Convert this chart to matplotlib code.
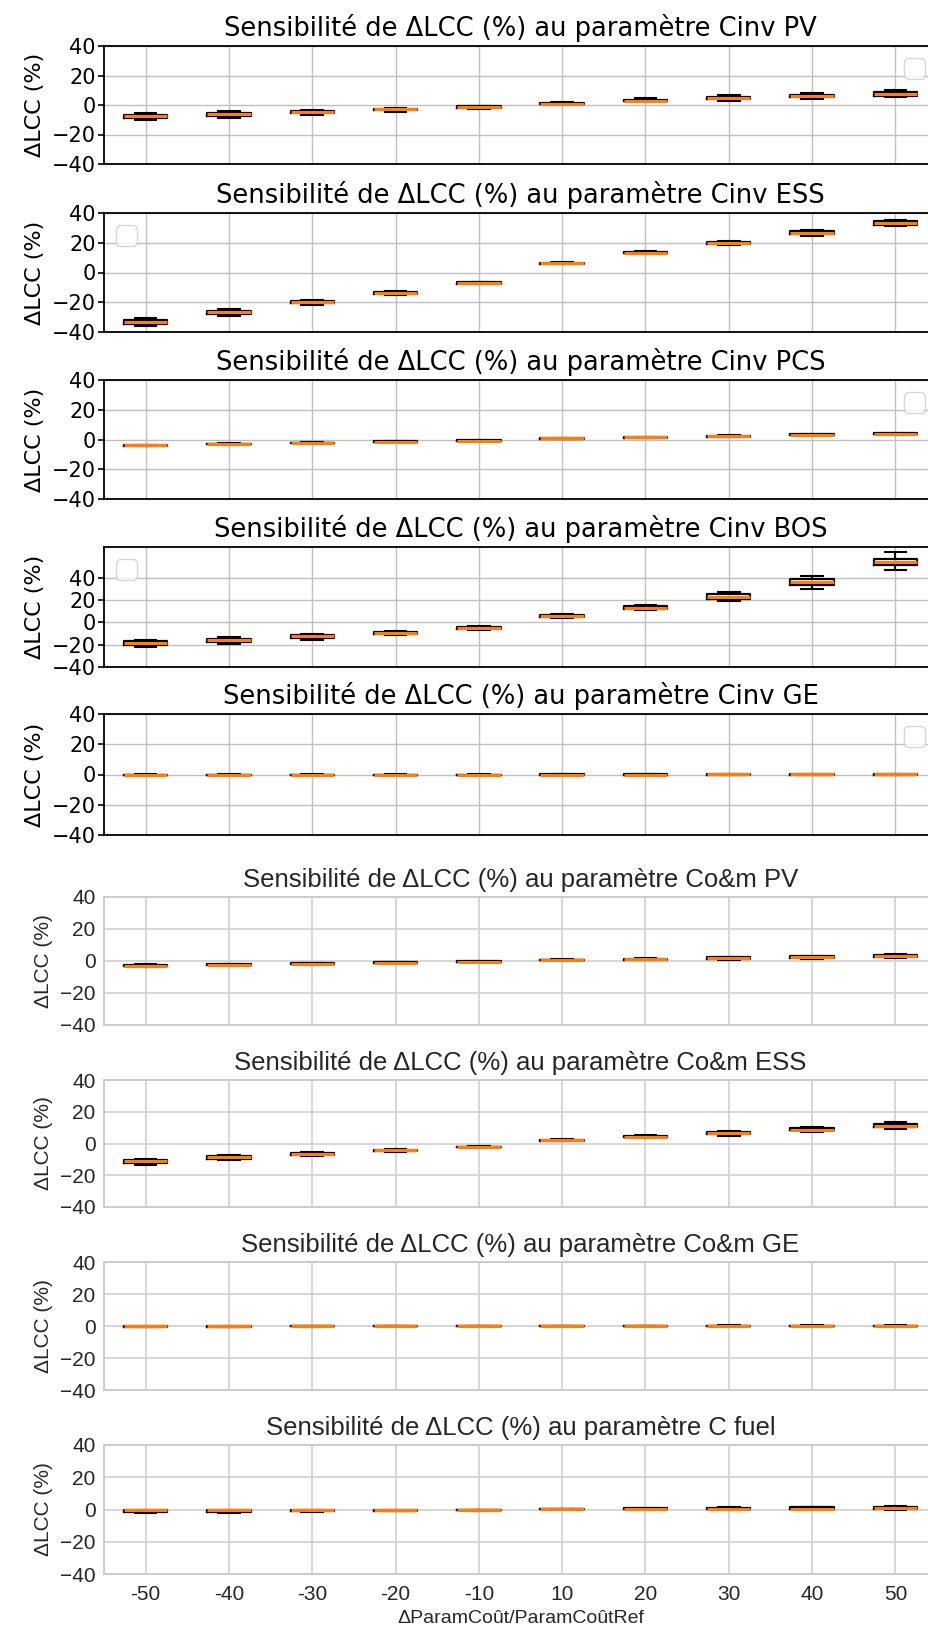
import matplotlib
matplotlib.use("Agg")
import matplotlib.pyplot as plt

categories = ["-50", "-40", "-30", "-20", "-10", "10", "20", "30", "40", "50"]
titles = ["Cinv PV", "Cinv ESS", "Cinv PCS", "Cinv BOS", "Cinv GE",
          "Co&m PV", "Co&m ESS", "Co&m GE", "C fuel"]

# each panel: whisker low, Q1, median, Q3, whisker high (ΔLCC %)
pv_lo  = [-10.5, -8.6, -6.8, -4.6, -2.4, 0.3, 1.8, 3.0, 4.3, 5.5]
pv_q1  = [-8.8, -7.2, -5.5, -3.6, -1.8, 0.7, 2.4, 3.8, 5.1, 6.4]
pv_med = [-7.6, -6.2, -4.7, -3.0, -1.4, 1.0, 2.9, 4.5, 5.9, 7.3]
pv_q3  = [-6.5, -5.2, -3.9, -2.4, -1.0, 1.4, 3.6, 5.4, 7.0, 8.7]
pv_hi  = [-5.5, -4.3, -3.2, -1.9, -0.7, 2.0, 4.5, 6.6, 8.3, 10.5]

ess_lo  = [-35.8, -29.0, -21.8, -14.9, -7.8, 5.5, 12.4, 18.3, 24.6, 31.2]
ess_q1  = [-34.5, -27.8, -20.8, -14.2, -7.4, 6.0, 13.0, 19.2, 25.8, 32.2]
ess_med = [-33.5, -26.8, -20.0, -13.6, -7.1, 6.2, 13.3, 19.8, 26.5, 33.1]
ess_q3  = [-32.2, -25.8, -19.3, -13.1, -6.7, 6.7, 14.0, 20.5, 27.6, 34.5]
ess_hi  = [-30.8, -24.8, -18.5, -12.4, -6.2, 7.3, 14.7, 21.4, 28.7, 35.6]

pcs_lo  = [-4.6, -3.6, -2.8, -2.0, -1.1, 0.3, 1.0, 1.6, 2.3, 3.0]
pcs_q1  = [-4.3, -3.3, -2.5, -1.7, -0.9, 0.5, 1.3, 2.0, 2.7, 3.5]
pcs_med = [-4.0, -3.1, -2.3, -1.5, -0.7, 0.7, 1.5, 2.3, 3.0, 3.8]
pcs_q3  = [-3.8, -2.9, -2.1, -1.3, -0.6, 0.9, 1.7, 2.6, 3.4, 4.2]
pcs_hi  = [-3.4, -2.6, -1.9, -1.1, -0.4, 1.1, 2.0, 3.0, 3.8, 4.6]

bos_lo  = [-22.1, -19.2, -15.5, -11.7, -7.2, 4.2, 10.8, 19.1, 30.3, 46.6]
bos_q1  = [-20.0, -17.2, -14.0, -10.4, -6.0, 5.0, 12.2, 21.0, 33.5, 51.0]
bos_med = [-18.2, -15.5, -12.6, -9.2, -5.1, 5.7, 13.2, 23.0, 36.1, 54.1]
bos_q3  = [-17.0, -14.5, -11.6, -8.4, -4.4, 6.4, 14.8, 25.0, 38.5, 57.0]
bos_hi  = [-16.1, -13.2, -10.8, -7.5, -3.6, 7.2, 15.9, 26.9, 41.9, 63.1]

ge_lo  = [-0.7, -0.6, -0.4, -0.3, -0.2, -0.1, -0.1, -0.1, -0.1, -0.1]
ge_q1  = [-0.6, -0.5, -0.3, -0.2, -0.1, 0.0, 0.0, 0.0, 0.0, 0.0]
ge_med = [-0.1, -0.1, -0.1, -0.1, 0.0, 0.0, 0.0, 0.1, 0.1, 0.1]
ge_q3  = [0.0, 0.0, 0.0, 0.0, 0.0, 0.1, 0.1, 0.3, 0.3, 0.3]
ge_hi  = [0.1, 0.1, 0.1, 0.1, 0.1, 0.2, 0.2, 0.5, 0.5, 0.6]

ompv_lo  = [-4.0, -3.3, -2.5, -1.8, -0.9, 0.2, 0.4, 0.8, 1.3, 1.8]
ompv_q1  = [-3.4, -2.8, -2.1, -1.4, -0.7, 0.4, 0.8, 1.4, 1.9, 2.4]
ompv_med = [-3.0, -2.4, -1.8, -1.1, -0.5, 0.6, 1.1, 1.8, 2.4, 3.0]
ompv_q3  = [-2.6, -2.0, -1.5, -0.9, -0.3, 0.8, 1.5, 2.3, 2.9, 3.5]
ompv_hi  = [-2.0, -1.6, -1.1, -0.6, -0.1, 1.0, 1.8, 2.8, 3.4, 4.1]

omess_lo  = [-13.5, -10.7, -8.0, -5.4, -2.8, 1.4, 3.6, 5.0, 7.4, 9.2]
omess_q1  = [-12.0, -9.5, -7.1, -4.8, -2.4, 1.8, 4.0, 5.8, 8.2, 10.2]
omess_med = [-11.0, -8.6, -6.5, -4.3, -2.2, 2.0, 4.2, 6.6, 8.8, 10.9]
omess_q3  = [-10.2, -8.0, -6.0, -4.0, -2.0, 2.3, 4.6, 7.2, 9.8, 12.3]
omess_hi  = [-9.6, -7.4, -5.5, -3.6, -1.8, 2.7, 5.1, 8.0, 10.6, 13.4]

omge_lo  = [-0.6, -0.5, -0.4, -0.3, -0.2, -0.1, -0.1, -0.1, -0.1, -0.1]
omge_q1  = [-0.5, -0.4, -0.3, -0.2, -0.1, 0.0, 0.0, 0.0, 0.0, 0.0]
omge_med = [0.0, 0.0, 0.0, 0.0, 0.0, 0.0, 0.0, 0.0, 0.1, 0.1]
omge_q3  = [0.1, 0.0, 0.0, 0.0, 0.0, 0.1, 0.1, 0.2, 0.3, 0.3]
omge_hi  = [0.1, 0.1, 0.1, 0.1, 0.1, 0.2, 0.2, 0.4, 0.5, 0.5]

fuel_lo  = [-2.0, -2.0, -1.5, -1.0, -1.0, 0.0, 0.0, 0.0, 0.0, 0.0]
fuel_q1  = [-1.6, -1.5, -1.2, -0.8, -0.6, 0.1, 0.2, 0.3, 0.3, 0.3]
fuel_med = [-0.6, -0.5, -0.4, -0.3, -0.2, 0.2, 0.4, 0.5, 0.6, 0.7]
fuel_q3  = [-0.3, -0.2, -0.2, -0.1, -0.1, 0.4, 0.8, 1.2, 1.3, 1.5]
fuel_hi  = [0.0, 0.0, 0.0, 0.0, 0.0, 0.6, 1.2, 1.7, 1.8, 2.2]

panels = [
    (pv_lo, pv_q1, pv_med, pv_q3, pv_hi),
    (ess_lo, ess_q1, ess_med, ess_q3, ess_hi),
    (pcs_lo, pcs_q1, pcs_med, pcs_q3, pcs_hi),
    (bos_lo, bos_q1, bos_med, bos_q3, bos_hi),
    (ge_lo, ge_q1, ge_med, ge_q3, ge_hi),
    (ompv_lo, ompv_q1, ompv_med, ompv_q3, ompv_hi),
    (omess_lo, omess_q1, omess_med, omess_q3, omess_hi),
    (omge_lo, omge_q1, omge_med, omge_q3, omge_hi),
    (fuel_lo, fuel_q1, fuel_med, fuel_q3, fuel_hi),
]

W, H = 929, 1627
fig = plt.figure(figsize=(W / 100, H / 100), dpi=100)

# axes pixel extents (top, bottom)
boxes_px = [(46, 164), (213, 332), (380, 499), (547, 667), (714, 835),
            (897, 1025), (1080, 1207), (1262, 1390), (1445, 1574)]
left_px, right_px = 104, 937
legend_locs = ["upper right", "upper left", "upper right", "upper left", "upper right"]

for i, (title, data, (top, bot)) in enumerate(zip(titles, panels, boxes_px)):
    ax = fig.add_axes([left_px / W, 1 - bot / H, (right_px - left_px) / W, (bot - top) / H])
    lo, q1, med, q3, hi = data
    stats = [dict(whislo=a, q1=b, med=c, q3=d, whishi=e, fliers=[])
             for a, b, c, d, e in zip(lo, q1, med, q3, hi)]
    modern = i >= 5
    txt = "#262626" if modern else "black"
    fam = ["Liberation Sans", "DejaVu Sans"] if modern else ["DejaVu Sans"]
    ax.bxp(stats, positions=range(1, 11), widths=0.52,
           boxprops=dict(color="black", linewidth=1.6),
           whiskerprops=dict(color="black", linewidth=1.5),
           capprops=dict(color="black", linewidth=1.5),
           medianprops=dict(color="#ff7f0e", linewidth=2.2))
    ax.set_xlim(0.5, 10.5)
    if titles[i] == "Cinv BOS":
        ax.set_ylim(-40, 67.5)
    else:
        ax.set_ylim(-40, 40)
    ax.set_yticks([-40, -20, 0, 20, 40])
    ax.set_xticks(range(1, 11))
    ax.set_axisbelow(True)
    if modern:
        ax.grid(True, color="#d0d0d0", linewidth=1.2)
        for s in ax.spines.values():
            s.set_color("#cccccc")
            s.set_linewidth(1.4)
        ax.tick_params(axis="y", length=0, labelsize=15, labelcolor=txt, pad=6)
    else:
        ax.grid(True, color="#c0c0c0", linewidth=1.0)
        for s in ax.spines.values():
            s.set_color("black")
            s.set_linewidth(1.3)
        ax.tick_params(axis="y", length=4, width=1.2, labelsize=15, pad=2)
    for lab in ax.get_yticklabels():
        lab.set_family(fam)
    if i == len(titles) - 1:
        ax.set_xticklabels(categories, fontsize=15, color=txt, family=fam)
        ax.tick_params(axis="x", length=0, pad=8)
        ax.set_xlabel("ΔParamCoût/ParamCoûtRef", fontsize=14, color=txt, family=fam, labelpad=4)
    else:
        ax.tick_params(axis="x", length=0, labelbottom=False)
    ax.set_ylabel("ΔLCC (%)", fontsize=15 if modern else 16, color=txt, family=fam, labelpad=5)
    ax.set_title("Sensibilité de ΔLCC (%) au paramètre " + title,
                 fontsize=18.5, color=txt, family=fam, pad=7)
    if not modern:
        ax.legend(handles=[], labels=[], loc=legend_locs[i], prop={"size": 19},
                  borderaxespad=0.45)

fig.savefig("out.png", dpi=100)
